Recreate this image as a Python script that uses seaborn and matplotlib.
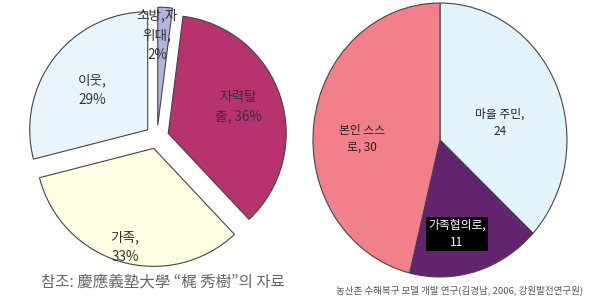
import matplotlib
matplotlib.use("Agg")
import matplotlib.pyplot as plt
import seaborn as sns

sns.set_style("white")
plt.rcParams['font.family'] = ['Noto Sans CJK KR', 'DejaVu Sans']

# ---- data ----
left_labels = ["소방,자\n위대,\n2%", "자력탈\n출, 36%", "가족,\n33%", "이웃,\n29%"]
left_values = [2, 36, 33, 29]
left_colors = ["#B3B3E0", "#B6336F", "#FFFDE2", "#E8F5FD"]
left_caption = "참조: 慶應義塾大學 “梶 秀樹”의 자료"

right_labels = ["마을 주민,\n24", "가족협의로,\n11", "본인 스스\n로, 30"]
right_values = [24, 11, 30]
right_colors = ["#E3F3FC", "#63246F", "#F2808A"]
right_caption = "농산촌 수해복구 모델 개발 연구(김경남, 2006, 강원발전연구원)"

# ---- layout ----
left_text_pos = [(0.0, 0.864), (0.686, 0.254), (-0.271, -0.932), (-0.551, 0.398)]
right_text_pos = [(0.472, 0.124), (0.134, -0.686), (-0.614, 0.007)]

fig = plt.figure(figsize=(6, 3), dpi=100)
ax1 = fig.add_axes([0, 0, 0.5, 1])
ax2 = fig.add_axes([0.5, 0, 0.5, 1])

ax1.pie(left_values, colors=left_colors, startangle=90, counterclock=False,
        explode=[0.1] * len(left_values),
        wedgeprops=dict(edgecolor="#444444", linewidth=0.8))
for lab, (x, y) in zip(left_labels, left_text_pos):
    ax1.text(x, y, lab, ha="center", va="center", fontsize=9.8,
             color="#333333", linespacing=1.5)
ax1.text(0.051, -1.237, left_caption, ha="center", va="center",
         fontsize=11.2, color="#666666")
ax1.set_aspect("auto")
ax1.set_xlim(-1.331, 1.212)
ax1.set_ylim(-1.381, 1.161)
ax1.axis("off")

ax2.pie(right_values, colors=right_colors, startangle=90, counterclock=False,
        wedgeprops=dict(edgecolor="#444444", linewidth=0.8))
for i, (lab, (x, y)) in enumerate(zip(right_labels, right_text_pos)):
    if i == 1:
        ax2.text(x, y, lab, ha="center", va="center", fontsize=8.5,
                 color="white", linespacing=1.4,
                 bbox=dict(facecolor="black", edgecolor="none", pad=1.5))
    else:
        ax2.text(x, y, lab, ha="center", va="center", fontsize=8.5,
                 color="#222222", linespacing=1.4)
ax2.text(0.157, -1.095, right_caption, ha="center", va="center",
         fontsize=6.9, color="#555555")
ax2.set_aspect("auto")
ax2.set_xlim(-1.102, 1.260)
ax2.set_ylim(-1.168, 1.022)
ax2.axis("off")

fig.savefig("out.png", dpi=100, facecolor="white")
